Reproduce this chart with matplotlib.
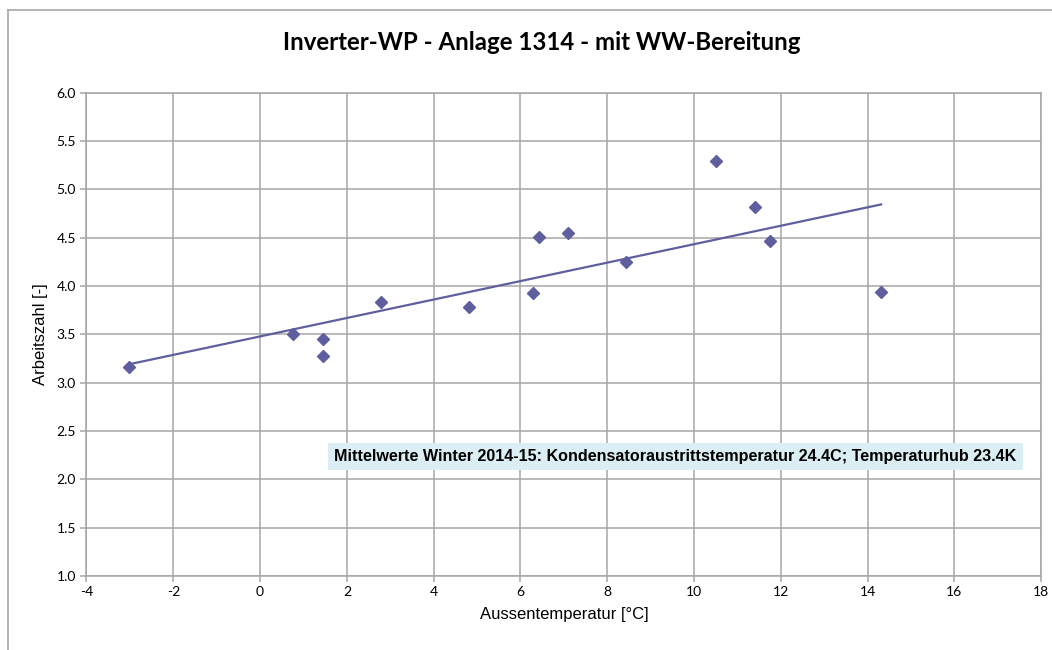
import numpy as np
import matplotlib
matplotlib.use("Agg")
import matplotlib.pyplot as plt
from matplotlib.lines import Line2D

# values
aussentemp = [-3.01, 0.75, 1.46, 1.44, 2.79, 4.82, 6.28, 6.43, 7.10, 8.43,
              10.51, 11.41, 11.75, 14.31]
arbeitszahl = [3.16, 3.50, 3.45, 3.28, 3.83, 3.78, 3.93, 4.51, 4.55, 4.25,
               5.29, 4.82, 4.47, 3.94]

x_ticks = list(range(-4, 19, 2))
y_ticks = [1.0, 1.5, 2.0, 2.5, 3.0, 3.5, 4.0, 4.5, 5.0, 5.5, 6.0]

title = "Inverter-WP - Anlage 1314 - mit WW-Bereitung"
note = ("Mittelwerte Winter 2014-15: Kondensatoraustrittstemperatur 24.4C; "
        "Temperaturhub 23.4K")

point_color = "#5f5f9f"
grid_color = "#a6a6a6"

fig = plt.figure(figsize=(10.52, 6.5), dpi=100)
ax = fig.add_axes([0.0822, 0.1138, 0.9076, 0.7436])

# outer chart border (only left and top are visible in the picture)
fig.add_artist(Line2D([8 / 1052, 8 / 1052], [0, 1 - 10 / 650],
                      color=grid_color, lw=1.2, transform=fig.transFigure))
fig.add_artist(Line2D([8 / 1052, 1], [1 - 10 / 650, 1 - 10 / 650],
                      color=grid_color, lw=1.2, transform=fig.transFigure))

ax.plot(aussentemp, arbeitszahl, linestyle="none", marker="D",
        markersize=6, color=point_color, zorder=3)

# linear trend line over the data range
slope, intercept = np.polyfit(aussentemp, arbeitszahl, 1)
xs = np.array([min(aussentemp), max(aussentemp)])
ax.plot(xs, slope * xs + intercept, color=point_color, lw=1.6, zorder=2)

ax.set_xlim(-4, 18)
ax.set_ylim(1.0, 6.0)
ax.set_xticks(x_ticks)
ax.set_yticks(y_ticks)
ax.set_xticklabels([str(t) for t in x_ticks])
ax.set_yticklabels([f"{t:.1f}" for t in y_ticks])
ax.grid(True, color=grid_color, lw=1.1)
ax.set_axisbelow(True)
for spine in ax.spines.values():
    spine.set_color(grid_color)
    spine.set_linewidth(1.1)
ax.tick_params(colors=grid_color, length=4, width=1.1, labelcolor="black",
               labelsize=10)
for lab in ax.get_xticklabels() + ax.get_yticklabels():
    lab.set_family(["Lato", "DejaVu Sans"])

ax.set_xlabel("Aussentemperatur [°C]", fontsize=12,
              family=["Liberation Sans", "DejaVu Sans"], labelpad=6)
ax.set_ylabel("Arbeitszahl [-]", fontsize=12,
              family=["Liberation Sans", "DejaVu Sans"], labelpad=6)

fig.text(0.515, 1 - 42 / 650, title, ha="center", va="center",
         fontsize=17.3, fontweight="bold", family=["Lato", "DejaVu Sans"])

ax.text(0.617, 0.248, note, transform=ax.transAxes, ha="center",
        va="center", fontsize=11.65, fontweight="bold",
        family=["Liberation Sans", "DejaVu Sans"],
        bbox=dict(boxstyle="square,pad=0.38", facecolor="#daeef3",
                  edgecolor="none"), zorder=4)

fig.savefig("out.png", dpi=100)
